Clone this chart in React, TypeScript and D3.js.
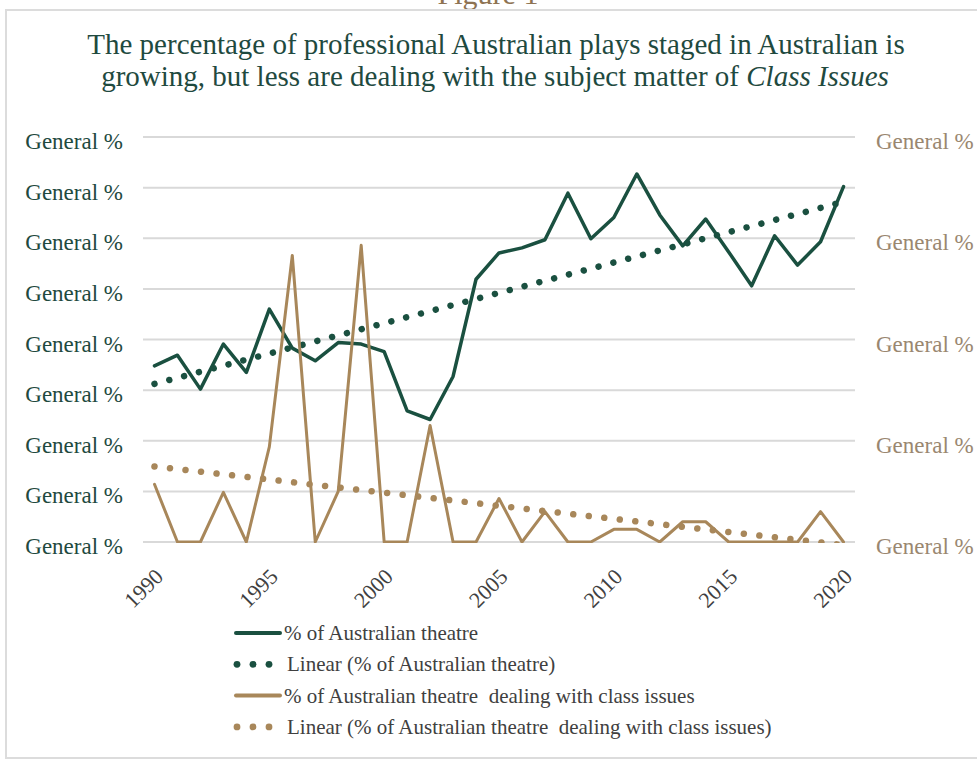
import React from "react";
import * as d3 from "d3";

const years = [
  1990, 1991, 1992, 1993, 1994, 1995, 1996, 1997, 1998, 1999, 2000,
  2001, 2002, 2003, 2004, 2005, 2006, 2007, 2008, 2009, 2010,
  2011, 2012, 2013, 2014, 2015, 2016, 2017, 2018, 2019, 2020,
];

// % of Australian theatre (left axis)
const theatrePct = [
  34.8, 36.9, 30.2, 39.1, 33.5, 46.0, 38.3, 35.8, 39.4, 39.1, 37.6,
  25.9, 24.2, 32.7, 51.9, 57.1, 58.1, 59.7, 68.9, 59.9, 64.1,
  72.7, 64.6, 58.5, 63.8, 57.3, 50.6, 60.5, 54.7, 59.3, 70.2,
];

// % of Australian theatre dealing with class issues (right axis)
const classPct = [
  5.7, 0, 0, 4.9, 0, 9.4, 28.3, 0, 5.0, 29.3, 0,
  0, 11.5, 0, 0, 4.3, 0, 3.0, 0, 0, 1.25,
  1.25, 0, 2.0, 2.0, 0, 0, 0, 0, 3.0, 0,
];

const leftTicks = [0, 10, 20, 30, 40, 50, 60, 70, 80];
const rightTicks = [0, 10, 20, 30, 40];
const yearLabels = [1990, 1995, 2000, 2005, 2010, 2015, 2020];
const tickLabel = "General %";

const titleLine1 = "The percentage of professional Australian plays staged in Australian is";
const titleLine2a = "growing, but less are dealing with the subject matter of ";
const titleLine2b = "Class Issues";
const figureLabel = "Figure 1";

const legendItems = [
  { label: "% of Australian theatre", kind: "line", series: "green" },
  { label: "Linear (% of Australian theatre)", kind: "dots", series: "green" },
  { label: "% of Australian theatre  dealing with class issues", kind: "line", series: "tan" },
  { label: "Linear (% of Australian theatre  dealing with class issues)", kind: "dots", series: "tan" },
];

const GREEN = "#1a5040";
const TAN = "#a8875a";
const FONT = "Liberation Serif, serif";

function linearFit(xs: number[], ys: number[]) {
  const n = xs.length;
  const mx = d3.mean(xs) as number;
  const my = d3.mean(ys) as number;
  let num = 0;
  let den = 0;
  for (let i = 0; i < n; i++) {
    num += (xs[i] - mx) * (ys[i] - my);
    den += (xs[i] - mx) * (xs[i] - mx);
  }
  const b = num / den;
  const a = my - b * mx;
  return (x: number) => a + b * x;
}

export default function App() {
  const W = 977;
  const H = 760;
  const left = 143;
  const right = 855;
  const top = 137;
  const bottom = 542;

  const x = d3
    .scalePoint<number>()
    .domain(years)
    .range([left, right])
    .padding(0.5);
  const yL = d3.scaleLinear().domain([0, 80]).range([bottom, top]);
  const yR = d3.scaleLinear().domain([0, 40]).range([bottom, top]);

  const lineL = d3
    .line<number>()
    .x((_, i) => x(years[i]) as number)
    .y((d) => yL(d));
  const lineR = d3
    .line<number>()
    .x((_, i) => x(years[i]) as number)
    .y((d) => yR(d));

  const fitG = linearFit(years, theatrePct);
  const fitT = linearFit(years, classPct);
  const y0 = years[0];
  const y1 = years[years.length - 1];
  const trendG = d3.line<number>()
    .x((yr) => x(yr) as number)
    .y((yr) => yL(fitG(yr)))([y0, y1]);
  const trendT = d3.line<number>()
    .x((yr) => x(yr) as number)
    .y((yr) => yR(fitT(yr)))([y0, y1]);

  const legendX = 235;
  const legendY0 = 633;
  const legendStep = 31.3;

  return (
    <svg
      width={W}
      height={H}
      style={{ position: "absolute", left: 0, top: 0, background: "#fff", fontFamily: FONT }}
    >
      <defs>
        <clipPath id="plotClip">
          <rect x={left} y={top - 4} width={right - left} height={bottom - top + 5} />
        </clipPath>
      </defs>
      <rect x={0} y={0} width={W} height={H} fill="#fff" />
      <text x={488} y={4} textAnchor="middle" fontSize={30} fill="#8e7352" style={{ fontFamily: FONT }}>
        {figureLabel}
      </text>
      <rect x={6} y={10} width={1000} height={748} fill="none" stroke="#dcdcdc" strokeWidth={2} />

      {/* Title */}
      <text x={496} y={54} textAnchor="middle" fontSize={29} fill="#1f4a3f" style={{ fontFamily: FONT }}>
        {titleLine1}
      </text>
      <text x={495} y={86} textAnchor="middle" fontSize={29} fill="#1f4a3f"
        style={{ fontFamily: FONT, whiteSpace: "pre" }}>
        {titleLine2a}
        <tspan fontStyle="italic">{titleLine2b}</tspan>
      </text>

      {/* Gridlines */}
      {leftTicks.map((t) => (
        <line key={"g" + t} x1={left} x2={right} y1={yL(t)} y2={yL(t)}
          stroke="#d9d9d9" strokeWidth={2} />
      ))}

      {/* Left axis labels */}
      {leftTicks.map((t) => (
        <text key={"l" + t} x={123} y={yL(t) + 12} textAnchor="end" fontSize={23} fill="#1f4a3f"
          style={{ fontFamily: FONT }}>
          {tickLabel}
        </text>
      ))}
      {/* Right axis labels */}
      {rightTicks.map((t) => (
        <text key={"r" + t} x={876} y={yR(t) + 12} textAnchor="start" fontSize={23} fill="#9a8770"
          style={{ fontFamily: FONT }}>
          {tickLabel}
        </text>
      ))}

      {/* X axis labels */}
      {yearLabels.map((yr) => {
        const px = (x(yr) as number) + 10;
        const py = 578;
        return (
          <text key={"x" + yr} x={px} y={py} textAnchor="end" fontSize={22} fill="#404040"
            style={{ fontFamily: FONT }} transform={`rotate(-45 ${px} ${py})`}>
            {yr}
          </text>
        );
      })}

      {/* Series */}
      <g clipPath="url(#plotClip)">
        <path d={lineL(theatrePct) as string} fill="none" stroke={GREEN} strokeWidth={3.5}
          strokeLinejoin="round" strokeLinecap="round" />
        <path d={trendG as string} fill="none" stroke={GREEN} strokeWidth={6.5}
          strokeDasharray="0.01 15.3" strokeLinecap="round" />
        <path d={lineR(classPct) as string} fill="none" stroke={TAN} strokeWidth={3}
          strokeLinejoin="round" strokeLinecap="round" />
        <path d={trendT as string} fill="none" stroke={TAN} strokeWidth={6.5}
          strokeDasharray="0.01 15.6" strokeLinecap="round" />
      </g>

      {/* Legend */}
      {legendItems.map((it, i) => {
        const cy = legendY0 + i * legendStep;
        const color = it.series === "green" ? GREEN : TAN;
        return (
          <g key={"leg" + i}>
            {it.kind === "line" ? (
              <line x1={legendX + 1} x2={legendX + 45} y1={cy} y2={cy} stroke={color}
                strokeWidth={4} strokeLinecap="round" />
            ) : (
              [0, 1, 2].map((k) => (
                <circle key={k} cx={legendX + 2 + k * 16} cy={cy} r={3.4} fill={color} />
              ))
            )}
            <text x={it.kind === "line" ? legendX + 49 : legendX + 52} y={cy + 7}
              fontSize={21} fill="#404040" style={{ fontFamily: FONT, whiteSpace: "pre" }}>
              {it.label}
            </text>
          </g>
        );
      })}
    </svg>
  );
}
